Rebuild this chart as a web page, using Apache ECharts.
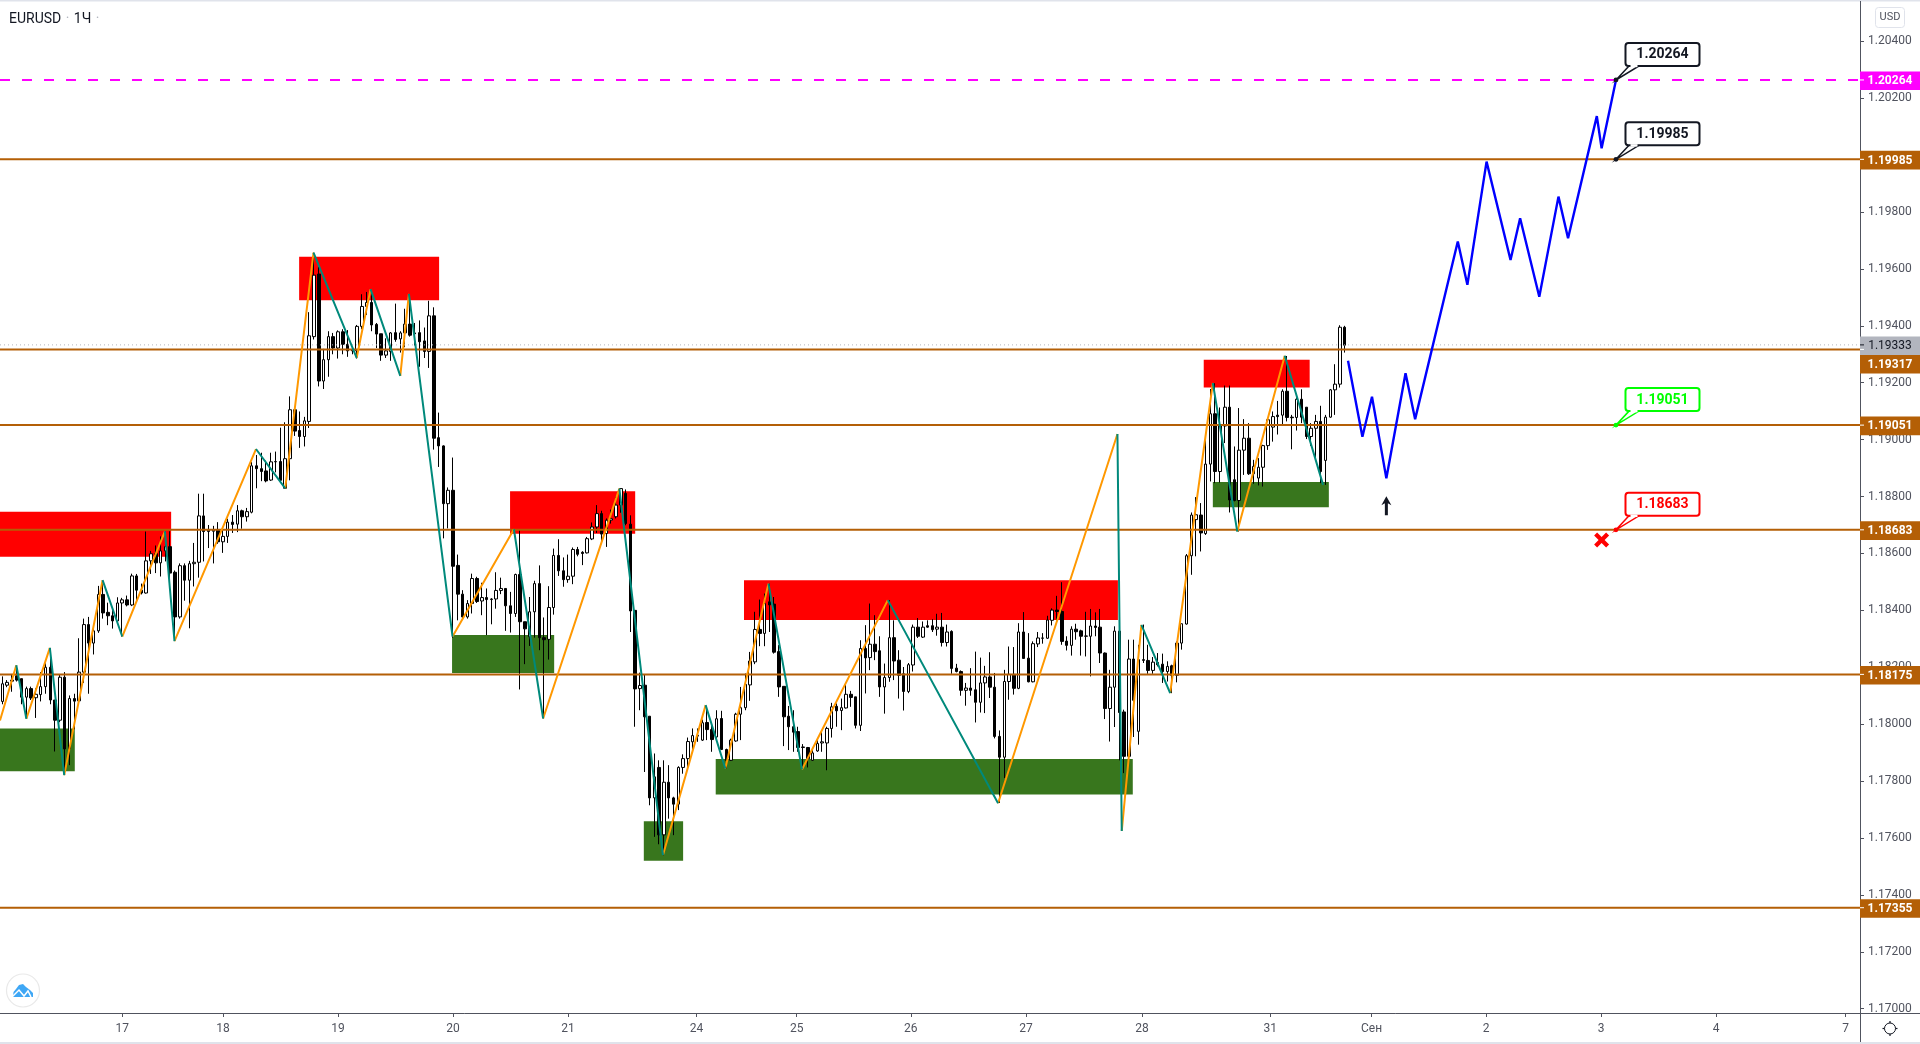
<!DOCTYPE html>
<html>
<head>
<meta charset="utf-8">
<title>EURUSD</title>
<style>
  html, body { margin: 0; padding: 0; background: #fff; }
  #chart { width: 1920px; height: 1044px; }
</style>
<script src="https://cdn.jsdelivr.net/npm/echarts@6/dist/echarts.min.js"></script>
</head>
<body>
<div id="chart"></div>
<script>
// hourly candles, one row per bar: open, close, low, high
var ohlc = [
[1.18080,1.18142,1.18070,1.18168],[1.18137,1.18147,1.18130,1.18155],[1.18151,1.18155,1.18114,1.18176],[1.18170,1.18155,1.18150,1.18205],
[1.18160,1.18095,1.18070,1.18160],[1.18095,1.18125,1.18019,1.18132],[1.18125,1.18092,1.18085,1.18132],[1.18093,1.18105,1.18022,1.18126],
[1.18104,1.18132,1.18080,1.18183],[1.18132,1.18200,1.18107,1.18214],[1.18200,1.18085,1.18070,1.18268],[1.18085,1.18014,1.17904,1.18085],
[1.18014,1.18165,1.18007,1.18176],[1.18165,1.17913,1.17821,1.18183],[1.17913,1.18090,1.17856,1.18101],[1.18090,1.18081,1.17982,1.18107],
[1.18082,1.18183,1.18076,1.18302],[1.18183,1.18350,1.18145,1.18371],[1.18350,1.18285,1.18107,1.18377],[1.18285,1.18328,1.18245,1.18352],
[1.18328,1.18456,1.18321,1.18486],[1.18456,1.18391,1.18371,1.18503],[1.18393,1.18381,1.18348,1.18427],[1.18381,1.18363,1.18336,1.18408],
[1.18363,1.18426,1.18358,1.18446],[1.18426,1.18437,1.18308,1.18444],[1.18437,1.18419,1.18414,1.18452],[1.18419,1.18521,1.18415,1.18529],
[1.18521,1.18471,1.18434,1.18528],[1.18471,1.18461,1.18456,1.18494],[1.18461,1.18574,1.18459,1.18677],[1.18574,1.18599,1.18528,1.18609],
[1.18599,1.18567,1.18531,1.18628],[1.18567,1.18609,1.18519,1.18660],[1.18609,1.18624,1.18572,1.18678],[1.18624,1.18531,1.18484,1.18678],
[1.18534,1.18377,1.18292,1.18540],[1.18377,1.18557,1.18371,1.18565],[1.18557,1.18506,1.18434,1.18565],[1.18506,1.18564,1.18337,1.18574],
[1.18564,1.18569,1.18484,1.18637],[1.18569,1.18732,1.18515,1.18810],[1.18732,1.18677,1.18572,1.18810],[1.18677,1.18682,1.18619,1.18700],
[1.18678,1.18682,1.18565,1.18697],[1.18682,1.18641,1.18634,1.18710],[1.18641,1.18660,1.18602,1.18685],[1.18660,1.18710,1.18637,1.18722],
[1.18710,1.18702,1.18672,1.18735],[1.18703,1.18750,1.18675,1.18770],[1.18750,1.18729,1.18687,1.18754],[1.18729,1.18747,1.18712,1.18760],
[1.18745,1.18908,1.18741,1.18921],[1.18908,1.18898,1.18829,1.18946],[1.18898,1.18888,1.18854,1.18954],[1.18890,1.18855,1.18850,1.18926],
[1.18858,1.18922,1.18855,1.18954],[1.18922,1.18923,1.18885,1.18958],[1.18923,1.18857,1.18854,1.19042],[1.18829,1.18933,1.18829,1.19061],
[1.18933,1.19105,1.18857,1.19152],[1.19105,1.19030,1.19013,1.19105],[1.19032,1.19011,1.18971,1.19099],[1.19011,1.19066,1.18976,1.19080],
[1.19064,1.19365,1.19041,1.19448],[1.19362,1.19578,1.19352,1.19657],[1.19582,1.19206,1.19187,1.19607],[1.19206,1.19281,1.19178,1.19319],
[1.19281,1.19362,1.19221,1.19381],[1.19362,1.19322,1.19300,1.19375],[1.19322,1.19379,1.19285,1.19384],[1.19379,1.19335,1.19300,1.19388],
[1.19335,1.19312,1.19291,1.19385],[1.19312,1.19315,1.19300,1.19325],[1.19312,1.19398,1.19285,1.19403],[1.19398,1.19468,1.19388,1.19511],
[1.19468,1.19482,1.19438,1.19519],[1.19482,1.19403,1.19381,1.19528],[1.19405,1.19371,1.19322,1.19410],[1.19372,1.19297,1.19277,1.19372],
[1.19297,1.19312,1.19287,1.19356],[1.19310,1.19375,1.19277,1.19378],[1.19376,1.19352,1.19344,1.19478],[1.19354,1.19375,1.19306,1.19381],
[1.19375,1.19406,1.19325,1.19460],[1.19406,1.19367,1.19362,1.19512],[1.19375,1.19372,1.19331,1.19410],[1.19376,1.19344,1.19256,1.19419],
[1.19347,1.19310,1.19287,1.19394],[1.19310,1.19435,1.19252,1.19488],[1.19435,1.19005,1.18965,1.19465],[1.19007,1.18978,1.18904,1.19095],
[1.18978,1.18775,1.18653,1.18980],[1.18775,1.18822,1.18688,1.18832],[1.18822,1.18555,1.18304,1.18937],[1.18558,1.18457,1.18365,1.18596],
[1.18457,1.18377,1.18371,1.18471],[1.18377,1.18424,1.18371,1.18436],[1.18424,1.18512,1.18389,1.18529],[1.18512,1.18431,1.18426,1.18518],
[1.18433,1.18445,1.18383,1.18497],[1.18445,1.18438,1.18313,1.18477],[1.18438,1.18440,1.18351,1.18443],[1.18440,1.18470,1.18406,1.18534],
[1.18470,1.18477,1.18457,1.18515],[1.18477,1.18416,1.18328,1.18477],[1.18416,1.18389,1.18322,1.18465],[1.18389,1.18526,1.18377,1.18529],
[1.18526,1.18360,1.18122,1.18685],[1.18360,1.18335,1.18211,1.18360],[1.18307,1.18395,1.18275,1.18447],[1.18395,1.18494,1.18304,1.18504],
[1.18494,1.18304,1.18260,1.18558],[1.18304,1.18297,1.18020,1.18375],[1.18298,1.18410,1.18227,1.18485],[1.18410,1.18593,1.18385,1.18617],
[1.18593,1.18539,1.18521,1.18650],[1.18539,1.18508,1.18483,1.18586],[1.18508,1.18520,1.18497,1.18596],[1.18520,1.18614,1.18492,1.18621],
[1.18614,1.18597,1.18590,1.18623],[1.18604,1.18600,1.18559,1.18608],[1.18602,1.18652,1.18600,1.18658],[1.18651,1.18693,1.18647,1.18709],
[1.18693,1.18740,1.18672,1.18770],[1.18740,1.18668,1.18641,1.18750],[1.18670,1.18717,1.18623,1.18723],[1.18717,1.18722,1.18705,1.18754],
[1.18729,1.18770,1.18723,1.18799],[1.18770,1.18828,1.18743,1.18828],[1.18811,1.18705,1.18699,1.18825],[1.18703,1.18398,1.18324,1.18734],
[1.18400,1.18124,1.17991,1.18400],[1.18125,1.18136,1.18049,1.18181],[1.18137,1.18026,1.17832,1.18174],[1.18028,1.17741,1.17715,1.18028],
[1.17741,1.17815,1.17604,1.17897],[1.17848,1.17611,1.17578,1.17873],[1.17611,1.17796,1.17539,1.17873],[1.17796,1.17741,1.17668,1.17856],
[1.17741,1.17719,1.17610,1.17745],[1.17719,1.17848,1.17698,1.17852],[1.17848,1.17879,1.17826,1.17894],[1.17879,1.17939,1.17844,1.17953],
[1.17938,1.17960,1.17903,1.17985],[1.17958,1.17961,1.17938,1.17985],[1.17944,1.18005,1.17941,1.18016],[1.18006,1.17981,1.17944,1.18061],
[1.17981,1.17946,1.17903,1.18008],[1.17955,1.18019,1.17949,1.18049],[1.18020,1.17911,1.17909,1.18047],[1.17911,1.17873,1.17844,1.17914],
[1.17873,1.17944,1.17871,1.17949],[1.17941,1.18035,1.17938,1.18040],[1.18035,1.18058,1.17944,1.18131],[1.18058,1.18140,1.18049,1.18178],
[1.18138,1.18222,1.18082,1.18254],[1.18219,1.18333,1.18211,1.18395],[1.18333,1.18319,1.18274,1.18438],[1.18319,1.18424,1.18274,1.18459],
[1.18430,1.18419,1.18324,1.18494],[1.18422,1.18253,1.18248,1.18447],[1.18255,1.18131,1.18096,1.18278],[1.18133,1.18026,1.17923,1.18133],
[1.18028,1.17991,1.17909,1.18064],[1.17991,1.17972,1.17903,1.18049],[1.17974,1.17918,1.17903,1.17991],[1.17918,1.17920,1.17844,1.17930],
[1.17918,1.17879,1.17848,1.17920],[1.17873,1.17899,1.17871,1.17914],[1.17906,1.17932,1.17903,1.17949],[1.17934,1.17938,1.17903,1.17979],
[1.17934,1.17985,1.17838,1.17991],[1.17985,1.18061,1.17953,1.18075],[1.18063,1.18047,1.17991,1.18073],[1.18048,1.18058,1.17979,1.18090],
[1.18057,1.18105,1.18055,1.18143],[1.18105,1.18094,1.18061,1.18117],[1.18096,1.17996,1.17985,1.18096],[1.17996,1.18266,1.17976,1.18295],
[1.18266,1.18233,1.18108,1.18348],[1.18234,1.18281,1.18190,1.18424],[1.18281,1.18255,1.18225,1.18383],[1.18258,1.18131,1.18096,1.18309],
[1.18131,1.18164,1.18037,1.18213],[1.18164,1.18304,1.18149,1.18436],[1.18304,1.18222,1.18155,1.18365],[1.18225,1.18172,1.18090,1.18260],
[1.18177,1.18115,1.18048,1.18201],[1.18115,1.18209,1.18109,1.18215],[1.18208,1.18341,1.18185,1.18350],[1.18341,1.18309,1.18303,1.18373],
[1.18306,1.18341,1.18303,1.18361],[1.18346,1.18341,1.18339,1.18365],[1.18346,1.18332,1.18324,1.18369],[1.18334,1.18341,1.18311,1.18388],
[1.18341,1.18287,1.18273,1.18391],[1.18287,1.18324,1.18273,1.18350],[1.18326,1.18196,1.18177,1.18330],[1.18197,1.18185,1.18182,1.18212],
[1.18185,1.18119,1.18100,1.18189],[1.18119,1.18127,1.18065,1.18145],[1.18127,1.18119,1.18100,1.18197],[1.18121,1.18077,1.18006,1.18255],
[1.18077,1.18145,1.18041,1.18234],[1.18145,1.18166,1.18039,1.18205],[1.18166,1.18130,1.18092,1.18253],[1.18130,1.17957,1.17950,1.18180],
[1.17957,1.17884,1.17723,1.17978],[1.17884,1.18150,1.17811,1.18191],[1.18150,1.18175,1.18086,1.18273],[1.18175,1.18126,1.18104,1.18271],
[1.18126,1.18324,1.18123,1.18355],[1.18324,1.18231,1.18231,1.18394],[1.18232,1.18149,1.18147,1.18320],[1.18149,1.18283,1.18147,1.18291],
[1.18282,1.18303,1.18271,1.18324],[1.18302,1.18303,1.18283,1.18320],[1.18302,1.18366,1.18300,1.18381],[1.18365,1.18401,1.18347,1.18407],
[1.18401,1.18396,1.18365,1.18451],[1.18396,1.18291,1.18279,1.18499],[1.18292,1.18277,1.18259,1.18309],[1.18277,1.18334,1.18241,1.18344],
[1.18334,1.18325,1.18297,1.18353],[1.18328,1.18309,1.18241,1.18332],[1.18309,1.18310,1.18238,1.18395],[1.18309,1.18345,1.18168,1.18405],
[1.18345,1.18340,1.18309,1.18393],[1.18341,1.18250,1.18215,1.18405],[1.18250,1.18055,1.18018,1.18252],[1.18055,1.18130,1.17939,1.18191],
[1.18130,1.18327,1.17990,1.18344],[1.18327,1.18041,1.17873,1.18344],[1.18043,1.17887,1.17828,1.18051],[1.17887,1.18229,1.17863,1.18297],
[1.18229,1.18084,1.17955,1.18297],[1.17975,1.18227,1.17928,1.18279],[1.18224,1.18227,1.18215,1.18350],[1.18224,1.18189,1.18177,1.18279],
[1.18189,1.18218,1.18177,1.18236],[1.18217,1.18209,1.18203,1.18250],[1.18211,1.18185,1.18145,1.18248],[1.18185,1.18203,1.18150,1.18221],
[1.18205,1.18172,1.18109,1.18209],[1.18172,1.18285,1.18147,1.18291],[1.18285,1.18353,1.18262,1.18353],[1.18352,1.18592,1.18350,1.18598],
[1.18592,1.18735,1.18525,1.18744],[1.18719,1.18736,1.18590,1.18798],[1.18735,1.18672,1.18607,1.18777],[1.18670,1.18914,1.18665,1.19000],
[1.18914,1.19091,1.18853,1.19178],[1.19091,1.18888,1.18847,1.19198],[1.18888,1.19048,1.18849,1.19113],[1.19048,1.19114,1.18988,1.19190],
[1.19114,1.18788,1.18744,1.19190],[1.18859,1.18786,1.18783,1.18976],[1.18786,1.18963,1.18677,1.19111],[1.18963,1.19005,1.18876,1.19072],
[1.19005,1.18880,1.18876,1.19058],[1.18880,1.18906,1.18845,1.18929],[1.18865,1.18903,1.18839,1.18935],[1.18903,1.18979,1.18835,1.18982],
[1.18979,1.19070,1.18964,1.19070],[1.19044,1.19081,1.18993,1.19099],[1.19086,1.19081,1.19018,1.19136],[1.19086,1.19170,1.19052,1.19177],
[1.19170,1.19078,1.19064,1.19294],[1.19079,1.19077,1.18966,1.19087],[1.19078,1.19142,1.19032,1.19149],[1.19142,1.19079,1.19058,1.19177],
[1.19114,1.19011,1.19002,1.19114],[1.19011,1.19040,1.18978,1.19058],[1.19040,1.19064,1.18935,1.19087],[1.19064,1.18888,1.18847,1.19119],
[1.18927,1.19079,1.18841,1.19087],[1.19079,1.19175,1.19077,1.19178],[1.19175,1.19195,1.19087,1.19265],[1.19195,1.19395,1.19183,1.19402],
[1.19395,1.19332,1.19306,1.19400]
];

// zigzag pivots, bar number and price; the first leg goes up
var zigzagBars = [-0.5,2.9,5,9.9,12.9,20.9,25,33.9,35.9,52.9,59,64.9,73.9,76.8,83,84.8,93.9,106.7,112.8,128.7,137.8,146.7,150.8,159.8,166.8,184.7,207.7,232.6,233.5,237.6,243.6,252.5,257.6,267.5,275.5];
var zigzagPrices = [1.18013,1.18207,1.18019,1.18268,1.17821,1.18506,1.18308,1.18678,1.18292,1.18967,1.18829,1.19657,1.19287,1.19529,1.19224,1.19512,1.18308,1.18685,1.18020,1.18828,1.17540,1.18067,1.17844,1.18494,1.17841,1.18436,1.17722,1.19020,1.17625,1.18349,1.18109,1.19199,1.18677,1.19295,1.18841];

// hand drawn forecast path
var forecastBars = [280.7,283.7,285.7,288.7,292.7,294.7,303.6,305.6,309.6,314.6,316.6,320.6,324.6,326.6,332.6,333.6,336.6];
var forecastPrices = [1.19277,1.19010,1.19151,1.18864,1.19233,1.19072,1.19696,1.19544,1.19977,1.19631,1.19778,1.19502,1.19854,1.19708,1.20137,1.20024,1.20264];

// zones: first bar, last bar, top price, bottom price
var redZones = [[-2,35.2,1.18747,1.18588],[61.9,91.1,1.19643,1.19490],[105.9,132,1.18819,1.18669],[154.7,232.7,1.18506,1.18366],[250.6,272.7,1.19281,1.19183]];
var greenZones = [[-2,15.1,1.17985,1.17835],[93.8,115.1,1.18313,1.18180],[133.8,142,1.17659,1.17520],[148.8,235.8,1.17878,1.17753],[252.5,276.7,1.18851,1.18762]];

// horizontal levels, top to bottom
var levelPrices = [1.20264,1.19985,1.19333,1.19317,1.19051,1.18683,1.18175,1.17355];
var levelKinds = ['target','level','last','level','level','level','level','level'];

// callouts: bar, price
var calloutBars = [336.6,336.6,336.6,336.6];
var calloutPrices = [1.20264,1.19985,1.19051,1.18683];
var calloutColors = ['#131722','#131722','#00ff00','#ff0000'];

var crossPoint = [333.6,1.18647];
var arrowPoint = [288.7,1.18768];

// 1.20000 is not printed, the 1.19985 tag covers it
var priceTicks = [1.17000,1.17200,1.17400,1.17600,1.17800,1.18000,1.18200,1.18400,1.18600,1.18800,1.19000,1.19200,1.19400,1.19600,1.19800,1.20200,1.20400];
var timeTicks = [25,46,70,94,118,144.8,165.7,189.5,213.5,237.7,264.5,285.6,309.5,333.5,357.5,384.5];
var timeLabels = ['17','18','19','20','21','24','25','26','27','28','31','Сен','2','3','4','7'];

var FONT = 'Roboto, "Liberation Sans", sans-serif';
var AXIS_COLOR = '#50535e';
var LEVEL_STYLE = {
  target: { line: '#ff00ff', tag: '#ff00ff', text: '#ffffff', width: 2, dash: [10, 12] },
  level: { line: '#b45f06', tag: '#b45f06', text: '#ffffff', width: 2, dash: null },
  last: { line: '#b2b5be', tag: '#b2b5be', text: '#131722', width: 1, dash: [1, 3] }
};

var candleData = ohlc.map(function (r, i) {
  return [i, r[0], r[1], r[2], r[3]];
});

// split the pivots into up legs and down legs, broken with empty points
function legs(firstLeg) {
  var out = [];
  for (var i = firstLeg; i < zigzagBars.length - 1; i += 2) {
    out.push([zigzagBars[i], zigzagPrices[i]]);
    out.push([zigzagBars[i + 1], zigzagPrices[i + 1]]);
    out.push([zigzagBars[i + 1], null]);
  }
  return out;
}

function lineSeries(data, color, z, width) {
  return {
    type: 'line', data: data, z: z, showSymbol: false, connectNulls: false,
    lineStyle: { color: color, width: width }, silent: true
  };
}

function zoneSeries(zones, color) {
  return {
    type: 'custom', data: zones, z: 1, silent: true,
    encode: { x: [0, 1], y: [2, 3] },
    renderItem: function (params, api) {
      var a = api.coord([api.value(0), api.value(2)]);
      var b = api.coord([api.value(1), api.value(3)]);
      return { type: 'rect', shape: { x: a[0], y: a[1], width: b[0] - a[0], height: b[1] - a[1] }, style: { fill: color } };
    }
  };
}

var TAG_H = 18.6;

function renderLevel(params, api) {
  var kind = LEVEL_STYLE[levelKinds[params.dataIndex]];
  var sys = params.coordSys;
  var y = api.coord([0, api.value(0)])[1];
  // price tags may not overlap, the lower one moves down like on the platform
  var tagY = y + 0.8;
  if (params.dataIndex > 0) {
    var prevY = api.coord([0, levelPrices[params.dataIndex - 1]])[1];
    if (y - prevY < TAG_H) tagY = prevY + 0.8 + TAG_H;
  }
  var right = sys.x + sys.width;
  return {
    type: 'group',
    children: [
      { type: 'line', shape: { x1: sys.x, y1: y, x2: right, y2: y }, style: { stroke: kind.line, lineWidth: kind.width, lineDash: kind.dash } },
      { type: 'rect', shape: { x: right, y: tagY - TAG_H / 2, width: 60, height: TAG_H }, style: { fill: kind.tag } },
      { type: 'line', shape: { x1: right, y1: y, x2: right + 4, y2: y }, style: { stroke: kind.text, lineWidth: 1 } },
      { type: 'text', style: { text: api.value(0).toFixed(5), x: right + 30, y: tagY + 0.5, align: 'center', verticalAlign: 'middle', fill: kind.text, font: (levelKinds[params.dataIndex] === 'last' ? '' : 'bold ') + '12px ' + FONT } }
    ]
  };
}

function renderCallout(params, api) {
  var p = api.coord([api.value(0), api.value(1)]);
  var c = calloutColors[params.dataIndex];
  var x = p[0], y = p[1];
  return {
    type: 'group',
    children: [
      { type: 'polygon', shape: { points: [[x, y], [x + 13, y - 14], [x + 23, y - 14]] }, style: { fill: '#fff', stroke: c, lineWidth: 1.5 } },
      { type: 'circle', shape: { cx: x, cy: y, r: 2.4 }, style: { fill: c } },
      { type: 'rect', shape: { x: x + 9.5, y: y - 37, width: 74, height: 23, r: 3 }, style: { fill: '#fff', stroke: c, lineWidth: 2 } },
      { type: 'line', shape: { x1: x + 14.5, y1: y - 14, x2: x + 21.5, y2: y - 14 }, style: { stroke: '#fff', lineWidth: 2.4 } },
      { type: 'text', style: { text: api.value(1).toFixed(5), x: x + 46.5, y: y - 25, align: 'center', verticalAlign: 'middle', fill: c, font: 'bold 14px ' + FONT } }
    ]
  };
}

// screen furniture around the plot
var furniture = [
  { type: 'rect', shape: { x: 0, y: 0, width: 1920, height: 1.5 }, style: { fill: '#e0e3eb' } },
  { type: 'rect', shape: { x: 0, y: 1042, width: 1920, height: 2 }, style: { fill: '#e0e3eb' } },
  { type: 'line', shape: { x1: 1860, y1: 1013.5, x2: 1920, y2: 1013.5 }, style: { stroke: AXIS_COLOR, lineWidth: 1 } },
  { type: 'line', shape: { x1: 1860.5, y1: 1, x2: 1860.5, y2: 1042 }, style: { stroke: AXIS_COLOR, lineWidth: 1 } },
  { type: 'rect', shape: { x: 1875.5, y: 7.5, width: 29, height: 20, r: 3 }, style: { fill: '#fff', stroke: '#e0e3eb', lineWidth: 1 } },
  { type: 'text', style: { text: 'USD', x: 1890, y: 17.5, align: 'center', verticalAlign: 'middle', fill: AXIS_COLOR, font: '11px ' + FONT } },
  { type: 'circle', shape: { cx: 1890, cy: 1028.5, r: 5.5 }, style: { fill: '#fff', stroke: '#131722', lineWidth: 1 } },
  { type: 'line', shape: { x1: 1890, y1: 1021, x2: 1890, y2: 1036 }, z: -1, style: { stroke: '#131722', lineWidth: 1.2 } },
  { type: 'line', shape: { x1: 1882.5, y1: 1028.5, x2: 1897.5, y2: 1028.5 }, z: -1, style: { stroke: '#131722', lineWidth: 1.2 } },
  { type: 'circle', shape: { cx: 23, cy: 990.5, r: 16.5 }, style: { fill: '#fff', stroke: '#e9e9e9', lineWidth: 1.2 } },
  { type: 'polygon', shape: { points: [[13, 997], [13.5, 992], [16, 989], [19, 985], [23, 984], [26, 987], [30, 990], [33, 993], [33, 997]] }, style: { fill: '#3fa7f5' } },
  { type: 'polyline', shape: { points: [[12, 997], [19, 990], [24, 996], [28, 991], [31, 997]] }, style: { stroke: '#fff', lineWidth: 1.5, fill: null } }
];

var chart = echarts.init(document.getElementById('chart'), null, { renderer: 'canvas' });

chart.setOption({
  animation: false,
  backgroundColor: '#ffffff',
  textStyle: { fontFamily: FONT },
  title: {
    left: 9, top: 10, padding: 0,
    text: '{a|EURUSD} {b|·} {a|1Ч} {b|·}',
    textStyle: {
      fontWeight: 'normal',
      rich: {
        a: { color: '#131722', fontSize: 14, fontWeight: 'normal', fontFamily: FONT },
        b: { color: '#b2b5be', fontSize: 14, fontWeight: 'normal', fontFamily: FONT }
      }
    }
  },
  grid: { left: 0, right: 60, top: 2, bottom: 31 },
  xAxis: {
    type: 'value', min: -0.5, max: 387.5, splitLine: { show: false },
    axisLine: { onZero: false, lineStyle: { color: AXIS_COLOR } },
    axisTick: { customValues: timeTicks, length: 4, lineStyle: { color: AXIS_COLOR } },
    axisLabel: {
      customValues: timeTicks, color: AXIS_COLOR, fontSize: 12, margin: 10,
      formatter: function (v) { return timeLabels[timeTicks.indexOf(v)]; }
    }
  },
  yAxis: {
    type: 'value', position: 'right', min: 1.16985, max: 1.20538, scale: true, splitLine: { show: false },
    axisLine: { show: true, onZero: false, lineStyle: { color: AXIS_COLOR } },
    axisTick: { customValues: priceTicks, length: 4, lineStyle: { color: AXIS_COLOR } },
    axisLabel: {
      customValues: priceTicks, color: AXIS_COLOR, fontSize: 12, margin: 8, padding: [4, 0, 0, 0],
      formatter: function (v) { return v.toFixed(5); }
    }
  },
  graphic: furniture,
  series: [
    zoneSeries(redZones, '#ff0000'),
    zoneSeries(greenZones, '#38761d'),
    {
      type: 'candlestick', data: candleData, z: 2, barWidth: 3, silent: true,
      encode: { x: 0, y: [1, 2, 3, 4] },
      itemStyle: { color: '#ffffff', color0: '#000000', borderColor: '#000000', borderColor0: '#000000', borderWidth: 1 }
    },
    {
      type: 'custom', data: levelPrices.map(function (p) { return [p]; }), z: 3, silent: true,
      encode: { y: 0 }, renderItem: renderLevel
    },
    lineSeries(legs(0), '#ff9800', 4, 2),
    lineSeries(legs(1), '#00897b', 4, 2),
    lineSeries(forecastBars.map(function (b, i) { return [b, forecastPrices[i]]; }), '#0000ff', 5, 2.4),
    {
      type: 'custom', z: 6, silent: true,
      data: calloutBars.map(function (b, i) { return [b, calloutPrices[i]]; }),
      encode: { x: 0, y: 1 }, renderItem: renderCallout
    },
    {
      type: 'scatter', z: 6, silent: true, data: [crossPoint], symbolSize: 15,
      symbol: 'path://M3 0 L7.5 4.5 L12 0 L15 3 L10.5 7.5 L15 12 L12 15 L7.5 10.5 L3 15 L0 12 L4.5 7.5 L0 3 Z',
      itemStyle: { color: '#ff0000', opacity: 1 }
    },
    {
      type: 'scatter', z: 6, silent: true, data: [arrowPoint], symbolSize: [10, 19],
      symbol: 'path://M5 0 L10 9 L6.5 7 L6.5 19 L3.5 19 L3.5 7 L0 9 Z',
      itemStyle: { color: '#131722', opacity: 1 }
    }
  ]
});
</script>
</body>
</html>
